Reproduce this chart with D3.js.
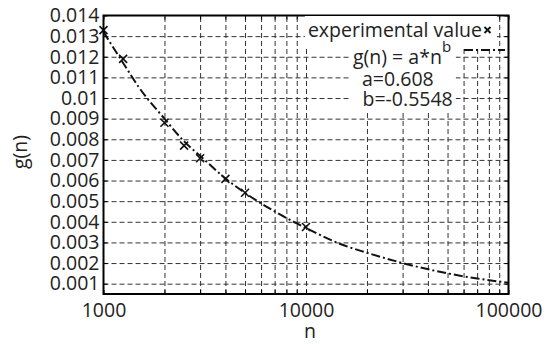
<!DOCTYPE html>
<html>
<head>
<meta charset="utf-8">
<script src="https://cdn.jsdelivr.net/npm/d3@7"></script>
<style>
  body { margin: 0; background: #fff; }
  text { font-family: "Open Sans", sans-serif; }
</style>
</head>
<body>
<div class="canvas"></div>
<script>
// experimental points
const expN = [1000, 1250, 2000, 2500, 3000, 4000, 5000, 10000];
const expG = [0.01329, 0.0119, 0.0088, 0.00769, 0.00708, 0.00608, 0.00541, 0.00375];

// fitted curve g(n) = a*n^b
const fitN = [1000, 1250, 1500, 2000, 2500, 3000, 4000, 5000, 7000, 10000, 15000, 20000, 30000, 50000, 70000, 100000];
const fitG = [0.0132, 0.0117, 0.0105, 0.0090, 0.0079, 0.0072, 0.0061, 0.0054, 0.0045, 0.0037, 0.0029, 0.0025, 0.0020, 0.0015, 0.00125, 0.00105];

const yTickValues = [0.001, 0.002, 0.003, 0.004, 0.005, 0.006, 0.007, 0.008, 0.009, 0.01, 0.011, 0.012, 0.013, 0.014];
const yTickLabels = ["0.001", "0.002", "0.003", "0.004", "0.005", "0.006", "0.007", "0.008", "0.009", "0.01", "0.011", "0.012", "0.013", "0.014"];
const xTickLabels = { 1000: "1000", 10000: "10000", 100000: "100000" };

const legendLabels = ["experimental value", "g(n) = a*n", "a=0.608", "b=-0.5548"];

const width = 557;
const height = 344;
const margin = { left: 103.5, top: 15.5, right: 48.5, bottom: 50 };
const plotW = width - margin.left - margin.right;
const plotH = height - margin.top - margin.bottom;
const fontSize = 19.5;

const svg = d3
  .select(".canvas")
  .append("svg")
  .attr("width", width)
  .attr("height", height);

svg.append("rect").attr("width", width).attr("height", height).attr("fill", "#fff");

const graph = svg
  .append("g")
  .attr("transform", `translate(${margin.left},${margin.top})`);

const xScale = d3.scaleLog().domain([1000, 100000]).range([0, plotW]);
const yScale = d3.scaleLinear().domain([0.0005, 0.014]).range([plotH, 0]);

const allX = xScale.ticks();
const innerX = allX.filter((d) => d > 1000 && d < 100000);
const innerY = yTickValues.filter((d) => d < 0.014);

// grid
const gridX = graph
  .append("g")
  .attr("transform", `translate(0,${plotH})`)
  .call(d3.axisBottom(xScale).tickValues(innerX).tickSize(-plotH).tickFormat(""));
const gridY = graph
  .append("g")
  .call(d3.axisLeft(yScale).tickValues(innerY).tickSize(-plotW).tickFormat(""));
[gridX, gridY].forEach((g) => {
  g.select(".domain").remove();
  g.selectAll("line")
    .attr("stroke", "#333")
    .attr("stroke-width", 1)
    .attr("stroke-dasharray", "5,3");
});

// inner ticks + labels
const bottomAxis = graph
  .append("g")
  .attr("transform", `translate(0,${plotH})`)
  .call(
    d3.axisBottom(xScale)
      .tickValues(allX)
      .tickSize(-4)
      .tickPadding(9)
      .tickFormat((d) => xTickLabels[d] || "")
  );
const topAxis = graph
  .append("g")
  .call(d3.axisTop(xScale).tickValues(allX).tickSize(-4).tickFormat(""));
const leftAxis = graph
  .append("g")
  .call(
    d3.axisLeft(yScale)
      .tickValues(yTickValues)
      .tickSize(-4)
      .tickPadding(4)
      .tickFormat((d, i) => yTickLabels[i])
  );
const rightAxis = graph
  .append("g")
  .attr("transform", `translate(${plotW},0)`)
  .call(d3.axisRight(yScale).tickValues(yTickValues).tickSize(-4).tickFormat(""));
[bottomAxis, topAxis, leftAxis, rightAxis].forEach((g) => {
  g.select(".domain").remove();
  g.selectAll("line").attr("stroke", "#000").attr("stroke-width", 1);
  g.selectAll("text")
    .attr("fill", "#222")
    .attr("font-family", '"Open Sans", sans-serif')
    .attr("font-size", fontSize);
});

// fitted curve
const line = d3
  .line()
  .x((d) => xScale(d[0]))
  .y((d) => yScale(d[1]))
  .curve(d3.curveMonotoneX);

graph
  .append("path")
  .datum(fitN.map((n, i) => [n, fitG[i]]))
  .attr("d", line)
  .attr("fill", "none")
  .attr("stroke", "#111")
  .attr("stroke-width", 2)
  .attr("stroke-dasharray", "9,3,2,3");

// markers
function cross(g, cx, cy, r, w) {
  g.append("path")
    .attr("d", `M${cx - r},${cy - r}L${cx + r},${cy + r}M${cx - r},${cy + r}L${cx + r},${cy - r}`)
    .attr("stroke", "#111")
    .attr("stroke-width", w)
    .attr("fill", "none");
}
expN.forEach((n, i) => cross(graph, xScale(n), yScale(expG[i]), 4, 1.6));

// legend
const legend = svg.append("g");
const bg1 = legend.append("rect").attr("fill", "#fff");
const bg2 = legend.append("rect").attr("fill", "#fff");

const t1 = legend
  .append("text")
  .text(legendLabels[0])
  .attr("x", 482)
  .attr("y", 37)
  .attr("text-anchor", "end")
  .attr("font-size", fontSize)
  .attr("fill", "#222");
cross(legend, 487.5, 30, 3, 1.8);

const t2 = legend
  .append("text")
  .attr("x", 353)
  .attr("y", 64)
  .attr("font-size", fontSize)
  .attr("fill", "#222");
t2.append("tspan").text(legendLabels[1]);
t2.append("tspan").text("b").attr("dy", -12).attr("font-size", 15);

const t3 = legend
  .append("text")
  .text(legendLabels[2])
  .attr("x", 362)
  .attr("y", 85.5)
  .attr("font-size", fontSize)
  .attr("fill", "#222");
const t4 = legend
  .append("text")
  .text(legendLabels[3])
  .attr("x", 362.5)
  .attr("y", 105.5)
  .attr("font-size", fontSize)
  .attr("fill", "#222");

const b1 = t1.node().getBBox();
bg1.attr("x", b1.x - 3).attr("y", b1.y).attr("width", b1.width + 18).attr("height", b1.height + 3);
const boxes = [t2, t3, t4].map((t) => t.node().getBBox());
const x0 = d3.min(boxes, (b) => b.x) - 3;
const x1 = d3.max(boxes, (b) => b.x + b.width) + 3;
const y0 = b1.y + b1.height + 3;
const y1 = d3.max(boxes, (b) => b.y + b.height);
bg2.attr("x", x0).attr("y", y0).attr("width", x1 - x0).attr("height", y1 - y0);

legend
  .append("line")
  .attr("x1", 464)
  .attr("x2", 505)
  .attr("y1", 50)
  .attr("y2", 50)
  .attr("stroke", "#111")
  .attr("stroke-width", 2)
  .attr("stroke-dasharray", "9,3,2,3");

// frame
graph
  .append("rect")
  .attr("width", plotW)
  .attr("height", plotH)
  .attr("fill", "none")
  .attr("stroke", "#000")
  .attr("stroke-width", 2);

// axis titles
svg
  .append("text")
  .text("n")
  .attr("x", margin.left + plotW / 2 + 4)
  .attr("y", 338)
  .attr("text-anchor", "middle")
  .attr("font-size", fontSize)
  .attr("fill", "#222");
svg
  .append("text")
  .text("g(n)")
  .attr("transform", "translate(27,152) rotate(-90)")
  .attr("text-anchor", "middle")
  .attr("font-size", fontSize)
  .attr("fill", "#222");
</script>
</body>
</html>
